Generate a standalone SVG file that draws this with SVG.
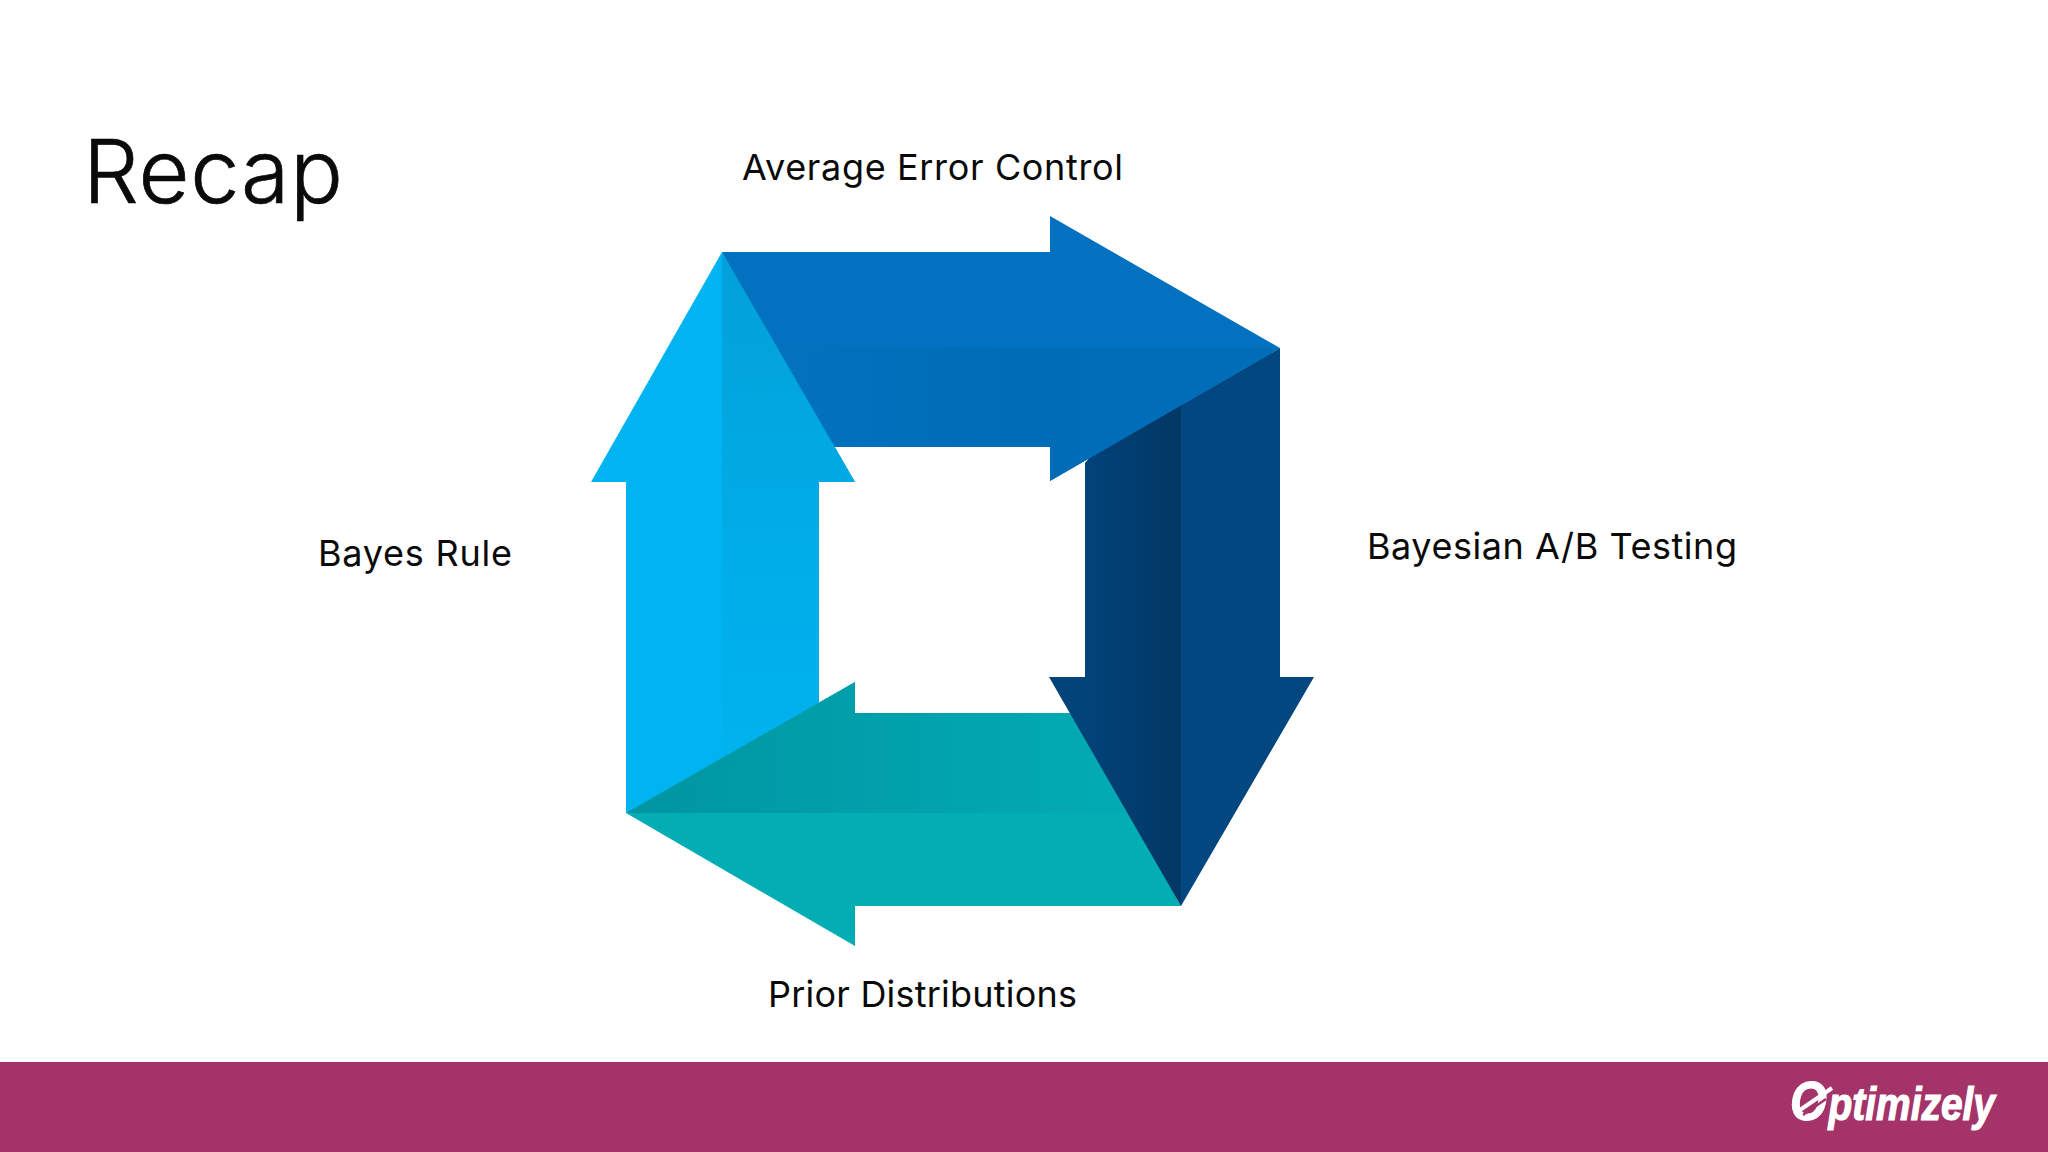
<svg xmlns="http://www.w3.org/2000/svg" width="2048" height="1152" viewBox="0 0 2048 1152">
<style>
.lbl{font-family:"Inter","Liberation Sans",sans-serif;font-size:36px;fill:#0a0a0a;font-variant-ligatures:none}
</style>
<defs>
<linearGradient id="gL" x1="0" y1="252" x2="0" y2="800" gradientUnits="userSpaceOnUse"><stop offset="0" stop-color="#03a0d8"/><stop offset="0.6" stop-color="#00aee9"/><stop offset="1" stop-color="#00b3f0"/></linearGradient>
<linearGradient id="gT" x1="760" y1="0" x2="1280" y2="0" gradientUnits="userSpaceOnUse"><stop offset="0" stop-color="#0272c0"/><stop offset="0.5" stop-color="#016cb6"/><stop offset="1" stop-color="#016db9"/></linearGradient>
<linearGradient id="gR" x1="1085" y1="0" x2="1181" y2="0" gradientUnits="userSpaceOnUse"><stop offset="0" stop-color="#024379"/><stop offset="1" stop-color="#013764"/></linearGradient>
<linearGradient id="gB" x1="626" y1="0" x2="1100" y2="0" gradientUnits="userSpaceOnUse"><stop offset="0" stop-color="#0095a3"/><stop offset="1" stop-color="#02aab3"/></linearGradient>
</defs>
<rect width="2048" height="1152" fill="#fff"/>
<g id="connectors">
<g id="arrow-left">
<polygon points="722,252 591,482 626,482 626,813 722,813" fill="#00b4f1"/>
<polygon points="722,252 855,482 819,482 819,813 722,813" fill="url(#gL)"/>
</g>
<g id="arrow-bottom">
<polygon points="626,813 855,682 855,713 1075,713 1181,906 855,906 855,946" fill="#03adb4"/>
<polygon points="626,813 855,682 855,713 1075,713 1130,813" fill="url(#gB)"/>
</g>
<g id="arrow-right">
<polygon points="1181,348 1085,463 1085,677 1049,677 1181,906" fill="url(#gR)"/>
<polygon points="1280,348 1280,677 1314,677 1181,906 1181,405" fill="#024780"/>
</g>
<g id="arrow-top">
<polygon points="722,252 1050,252 1050,216 1280,348 1050,481 1050,447 825,447" fill="#0272c0"/>
<polygon points="770,348 1280,348 1050,481 1050,447 825,447" fill="url(#gT)"/>
</g>
<polygon id="arrow-left-head" points="722,252 855,482 722,482" fill="url(#gL)"/>
</g>
<text id="title" x="83" y="203" stroke="#0a0a0a" stroke-width="0.7" style="font-family:'Inter','Liberation Sans',sans-serif;font-weight:300;font-size:88px;fill:#0a0a0a" textLength="260">Recap</text>
<g id="node-top"><text class="lbl" x="742" y="180" textLength="381">Average Error Control</text></g>
<g id="node-right"><text class="lbl" x="1367" y="559" textLength="370">Bayesian A/B Testing</text></g>
<g id="node-left"><text class="lbl" x="318" y="566" textLength="194">Bayes Rule</text></g>
<g id="node-bottom"><text class="lbl" x="768" y="1007" textLength="309">Prior Distributions</text></g>
<rect id="band" y="1062" width="2048" height="90" fill="#a33369"/>
<g id="logo">
<text x="1790" y="1120" fill="#fff" stroke="#fff" stroke-width="1.2" style="font-family:'Liberation Sans',sans-serif;font-weight:700;font-style:italic;font-size:46px" textLength="205" lengthAdjust="spacingAndGlyphs"><tspan font-size="56">O</tspan><tspan dx="2">ptimizely</tspan></text>
<line x1="1800" y1="1110" x2="1832" y2="1088" stroke="#fff" stroke-width="4"/>
<line x1="1803" y1="1115" x2="1826" y2="1099" stroke="#a33369" stroke-width="2.5"/>
</g>
</svg>
